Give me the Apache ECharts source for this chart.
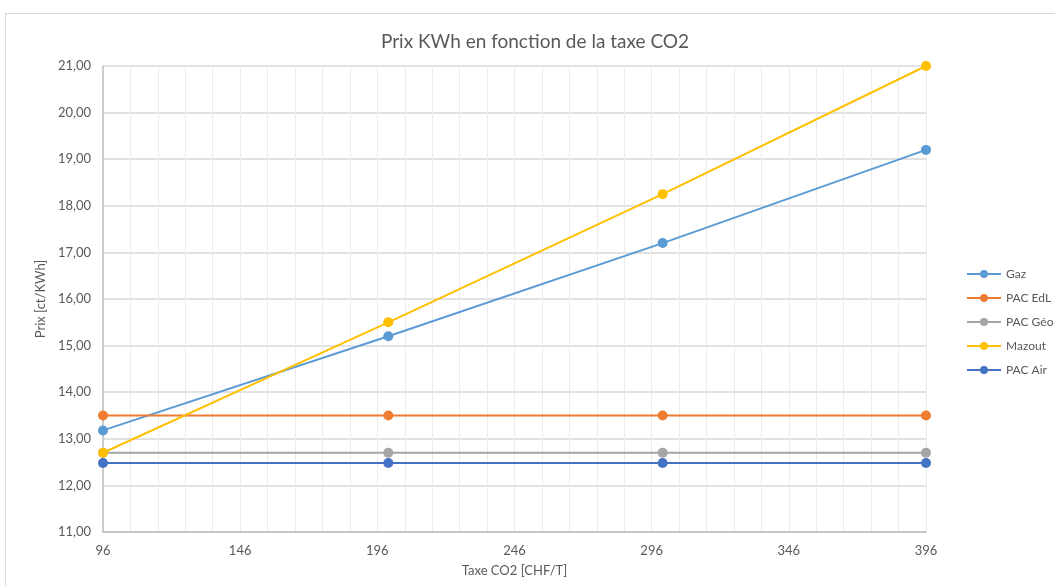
<!DOCTYPE html>
<html>
<head>
<meta charset="utf-8">
<script src="https://cdn.jsdelivr.net/npm/echarts@6/dist/echarts.min.js"></script>
<style>
  html, body { margin: 0; padding: 0; background: #fff; }
  #frame { position: absolute; left: 5px; top: 13px; width: 1060px; height: 600px; border: 1px solid #d9d9d9; box-sizing: border-box; }
  #chart { position: absolute; left: 0; top: 0; width: 1055px; height: 586px; }
</style>
</head>
<body>
<div id="frame"></div>
<div id="chart"></div>
<script>
// taxe CO2 [CHF/T]
const taxe = [96, 200, 300, 396];
const gaz = [13.18, 15.2, 17.2, 19.2];
const pacEdl = [13.5, 13.5, 13.5, 13.5];
const pacGeo = [12.7, 12.7, 12.7, 12.7];
const mazout = [12.7, 15.5, 18.25, 21.0];
const pacAir = [12.48, 12.48, 12.48, 12.48];

const seriesDefs = [
  { name: 'Gaz', values: gaz, color: '#5b9bd5' },
  { name: 'PAC EdL', values: pacEdl, color: '#ed7d31' },
  { name: 'PAC Géo', values: pacGeo, color: '#a5a5a5' },
  { name: 'Mazout', values: mazout, color: '#ffc000' },
  { name: 'PAC Air', values: pacAir, color: '#4472c4' }
];

const font = 'Lato, "Open Sans", sans-serif';
const chart = echarts.init(document.getElementById('chart'));

chart.setOption({
  animation: false,
  textStyle: { fontFamily: font },
  title: {
    text: 'Prix KWh en fonction de la taxe CO2',
    left: 530, top: 27, textAlign: 'center',
    textStyle: { color: '#595959', fontSize: 19, fontWeight: 'normal', fontFamily: font }
  },
  legend: {
    orient: 'vertical',
    left: 961, top: 263,
    itemWidth: 34, itemHeight: 10, itemGap: 12,
    textStyle: { color: '#595959', fontSize: 12 },
    data: seriesDefs.map(s => s.name)
  },
  grid: { left: 103, right: 129, top: 66, bottom: 54 },
  xAxis: {
    type: 'value', min: 96, max: 396, interval: 50,
    name: 'Taxe CO2 [CHF/T]', nameLocation: 'middle', nameGap: 32,
    nameTextStyle: { color: '#595959', fontSize: 13 },
    axisLine: { lineStyle: { color: '#bfbfbf', width: 1.5 } },
    axisTick: { show: false },
    axisLabel: { color: '#595959', fontSize: 13, margin: 12 },
    splitLine: { show: true, lineStyle: { color: '#ebebeb', width: 1 } },
    minorTick: { show: false, splitNumber: 5 },
    minorSplitLine: { show: true, lineStyle: { color: '#ebebeb', width: 1 } }
  },
  yAxis: {
    type: 'value', min: 11, max: 21, interval: 1,
    name: 'Prix [ct/KWh]', nameLocation: 'middle', nameGap: 56, nameRotate: 90,
    nameTextStyle: { color: '#595959', fontSize: 13 },
    axisLine: { show: true, lineStyle: { color: '#bfbfbf', width: 1.5 } },
    axisTick: { show: false },
    axisLabel: { color: '#595959', fontSize: 13, margin: 12, formatter: v => v.toFixed(2).replace('.', ',') },
    splitLine: { show: true, lineStyle: { color: '#d9d9d9', width: 1.5 } }
  },
  series: seriesDefs.map(s => ({
    name: s.name,
    type: 'line',
    data: taxe.map((x, i) => [x, s.values[i]]),
    symbol: 'circle',
    symbolSize: 10,
    clip: true,
    color: s.color,
    lineStyle: { color: s.color, width: 2 },
    itemStyle: { color: s.color }
  }))
});
</script>
</body>
</html>
